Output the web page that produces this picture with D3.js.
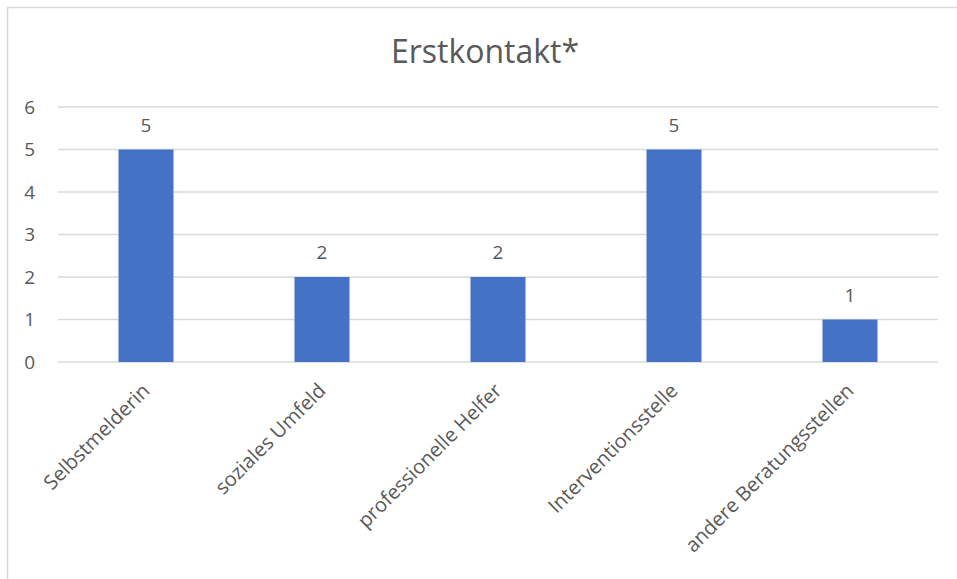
<!DOCTYPE html>
<html>
<head>
<meta charset="utf-8">
<script src="https://cdn.jsdelivr.net/npm/d3@7"></script>
<style>
  html, body { margin: 0; padding: 0; background: #fff; }
  svg { display: block; }
  text { font-family: "Open Sans", sans-serif; fill: #595959; }
</style>
</head>
<body>
<svg id="chart" width="957" height="579"></svg>
<script>
// Erstkontakt: number of first contacts by source
const categories = ["Selbstmelderin", "soziales Umfeld", "professionelle Helfer", "Interventionsstelle", "andere Beratungsstellen"];
const counts = [5, 2, 2, 5, 1];
const yTicks = [0, 1, 2, 3, 4, 5, 6];
const title = "Erstkontakt*";

const W = 957, H = 579;
const plot = { left: 58, right: 938, top: 107, bottom: 362 };

const svg = d3.select("#chart");

// chart frame (only top and left edges fall inside the view)
svg.append("rect")
  .attr("x", 7.5).attr("y", 7.5)
  .attr("width", W + 20).attr("height", H + 20)
  .attr("fill", "#fff").attr("stroke", "#d9d9d9").attr("stroke-width", 1.5);

const x = d3.scaleBand().domain(categories).range([plot.left, plot.right]).padding(0);
const y = d3.scaleLinear().domain([0, 6]).range([plot.bottom, plot.top]);
const barW = x.bandwidth() * 0.3125;

// gridlines
svg.append("g")
  .selectAll("line")
  .data(yTicks)
  .join("line")
  .attr("x1", plot.left).attr("x2", plot.right)
  .attr("y1", d => y(d)).attr("y2", d => y(d))
  .attr("stroke", "#d9d9d9").attr("stroke-width", 1.3);

// y axis labels
const yAxis = d3.axisLeft(y).tickValues(yTicks).tickFormat(d3.format("d")).tickSize(0).tickPadding(0);
svg.append("g")
  .attr("transform", `translate(${plot.left - 23},0)`)
  .call(yAxis)
  .call(g => g.select(".domain").remove())
  .call(g => g.selectAll("text").attr("font-size", 19).attr("fill", "#595959")
    .style("font-family", "'Open Sans', sans-serif"));

// bars
svg.append("g")
  .selectAll("rect")
  .data(categories)
  .join("rect")
  .attr("x", d => x(d) + (x.bandwidth() - barW) / 2)
  .attr("width", barW)
  .attr("y", (d, i) => y(counts[i]))
  .attr("height", (d, i) => y(0) - y(counts[i]))
  .attr("fill", "#4472c4");

// value labels
svg.append("g")
  .selectAll("text")
  .data(categories)
  .join("text")
  .attr("x", d => x(d) + x.bandwidth() / 2)
  .attr("y", (d, i) => y(counts[i]) - 18)
  .attr("text-anchor", "middle")
  .attr("font-size", 19)
  .text((d, i) => counts[i]);

// x axis: rotated category labels
const xAxis = d3.axisBottom(x).tickSize(0).tickPadding(0);
svg.append("g")
  .attr("transform", `translate(0,${plot.bottom})`)
  .call(xAxis)
  .call(g => g.select(".domain").remove())
  .call(g => g.selectAll("text")
    .attr("font-size", 20)
    .attr("fill", "#595959")
    .style("font-family", "'Open Sans', sans-serif")
    .attr("text-anchor", "end")
    .attr("dy", "0.35em")
    .attr("transform", "translate(0,25) rotate(-45)"));

// title
svg.append("text")
  .attr("x", 485).attr("y", 63)
  .attr("text-anchor", "middle")
  .attr("font-size", 32)
  .text(title);
</script>
</body>
</html>
